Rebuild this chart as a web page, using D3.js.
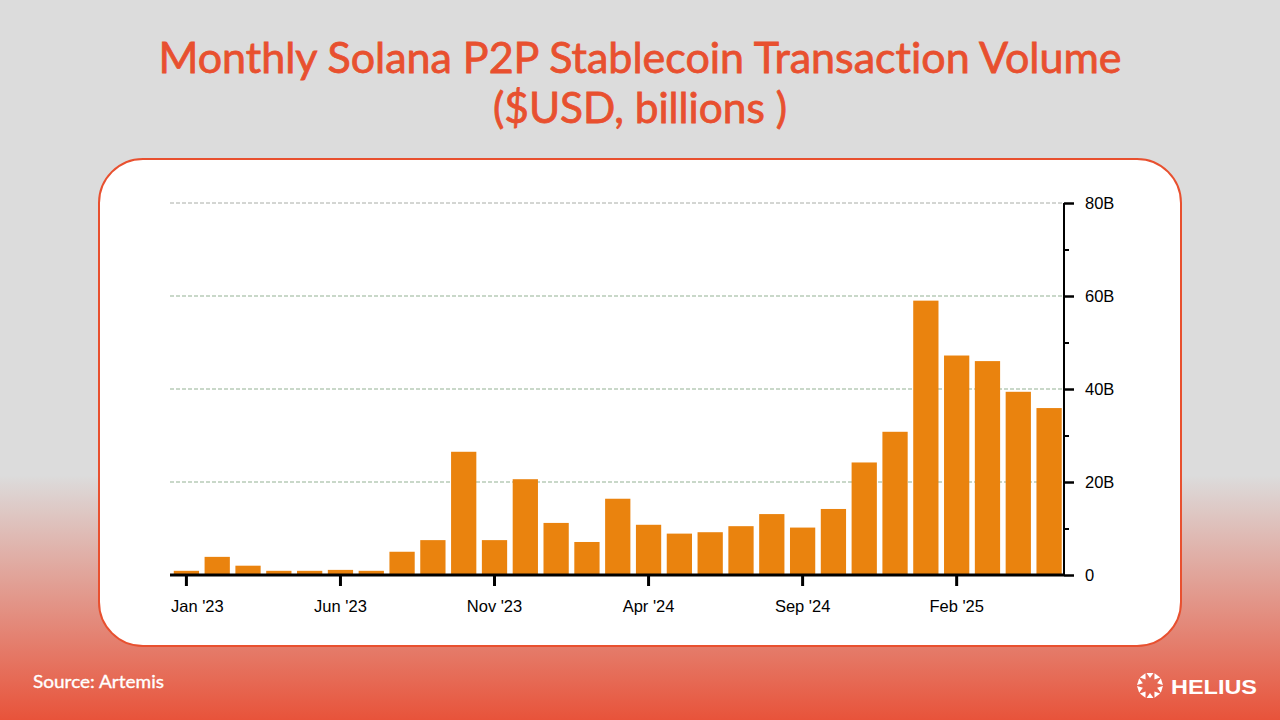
<!DOCTYPE html>
<html>
<head>
<meta charset="utf-8">
<script src="https://cdnjs.cloudflare.com/ajax/libs/d3/7.8.5/d3.min.js"></script>
<style>
html,body{margin:0;padding:0;background:#dcdcdc;}
svg{display:block;}
.title{font-family:Lato,sans-serif;font-weight:400;fill:#e8502f;stroke:#e8502f;stroke-width:0.8px;text-anchor:middle;font-variant-ligatures:none;}
.tick text{font-family:"Liberation Sans",Arial,sans-serif;font-size:16.5px;fill:#000;}
</style>
</head>
<body>
<svg id="chart" width="1280" height="720"></svg>
<script>
var months = ["Jan '23","Feb '23","Mar '23","Apr '23","May '23","Jun '23","Jul '23","Aug '23","Sep '23","Oct '23","Nov '23","Dec '23",
	"Jan '24","Feb '24","Mar '24","Apr '24","May '24","Jun '24","Jul '24","Aug '24","Sep '24","Oct '24","Nov '24","Dec '24",
	"Jan '25","Feb '25","Mar '25","Apr '25","May '25"];
var volumes = [0.9,3.9,2.0,0.9,0.9,1.1,0.9,5.0,7.5,26.5,7.5,20.6,11.2,7.1,16.4,10.8,8.9,9.2,10.5,13.1,10.2,14.2,24.2,30.8,59.0,47.2,46.0,39.4,35.9];
var xTickLabels = ["Jan '23","Jun '23","Nov '23","Apr '24","Sep '24","Feb '25"];
var yMajorTicks = [0,20,40,60,80];
var yMinorTicks = [10,30,50,70];
var titleLines = ["Monthly Solana P2P Stablecoin Transaction Volume","($USD, billions )"];

var svg = d3.select("#chart");

// background fade
var grad = svg.append("defs").append("linearGradient").attr("id","bg")
	.attr("x1",0).attr("y1",0).attr("x2",0).attr("y2",1);
grad.append("stop").attr("offset","66%").attr("stop-color","#dcdcdc");
grad.append("stop").attr("offset","100%").attr("stop-color","#e8533a");
svg.append("rect").attr("width",1280).attr("height",720).attr("fill","url(#bg)");

svg.selectAll("text.title").data(titleLines).enter().append("text")
	.attr("class","title")
	.attr("x",640)
	.attr("y",function(d,i){return 73 + i*50;})
	.attr("font-size",43)
	.attr("textLength",function(d,i){return i==0 ? 963 : 294;})
	.attr("lengthAdjust","spacingAndGlyphs")
	.text(function(d){return d;});

// white card
svg.append("rect").attr("x",99).attr("y",159).attr("width",1082).attr("height",487).attr("rx",44)
	.attr("fill","#fff").attr("stroke","#e8502f").attr("stroke-width",2);

var left = 170, right = 1064, top_ = 203, bottom = 575;
// band so that Jan '23 centres at 186 and May '25 at 1048
var x = d3.scaleBand().domain(months).range([left+1,right+0.5]).paddingInner(0.18).paddingOuter(0.09);
var y = d3.scaleLinear().domain([0,80]).range([bottom,top_]);

// gridlines
svg.selectAll("line.grid").data(yMajorTicks.slice(1)).enter().append("line")
	.attr("class","grid")
	.attr("x1",left).attr("x2",right)
	.attr("y1",function(d){return y(d);}).attr("y2",function(d){return y(d);})
	.attr("stroke",function(d){return d==80 ? "#a8aca6" : "#93b193";})
	.attr("stroke-dasharray","4,2");

svg.selectAll("rect.bar").data(volumes).enter().append("rect")
	.attr("class","bar")
	.attr("x",function(d,i){return x(months[i]);})
	.attr("width",x.bandwidth())
	.attr("y",function(d){return y(d);})
	.attr("height",function(d){return bottom - y(d);})
	.attr("fill","#ea830e");

// x axis
var xAxis = d3.axisBottom(x).tickValues(xTickLabels).tickSize(11).tickPadding(14);
var gx = svg.append("g").attr("transform","translate(0,"+bottom+")").call(xAxis);
gx.select(".domain").attr("stroke","#000").attr("stroke-width",3).attr("d","M"+left+",0H"+right);
gx.selectAll(".tick line").attr("stroke","#000").attr("stroke-width",3);
// first label is pushed in to the plot's left edge
gx.selectAll(".tick text").filter(function(d){return d==xTickLabels[0];})
	.attr("text-anchor","start").attr("x",left+1-x(months[0])-x.bandwidth()/2);

// y axis, minor ticks first
var gyMinor = svg.append("g").attr("transform","translate("+right+",0)")
	.call(d3.axisRight(y).tickValues(yMinorTicks).tickSize(5).tickFormat(""));
gyMinor.select(".domain").remove();
gyMinor.selectAll(".tick line").attr("stroke","#000").attr("stroke-width",2);

var gy = svg.append("g").attr("transform","translate("+right+",0)")
	.call(d3.axisRight(y).tickValues(yMajorTicks).tickSize(10).tickPadding(11)
		.tickFormat(function(d){return d==0 ? "0" : d+"B";}));
gy.select(".domain").attr("stroke","#000").attr("stroke-width",2).attr("d","M0,"+top_+"V"+bottom);
gy.selectAll(".tick line").attr("stroke","#000").attr("stroke-width",2.5);

// footer
svg.append("text").attr("x",33).attr("y",688)
	.attr("font-family","Lato,sans-serif").attr("font-weight",400).attr("font-size",18)
	.attr("stroke","#fff").attr("stroke-width",0.35)
	.attr("textLength",131).attr("lengthAdjust","spacingAndGlyphs")
	.attr("fill","#fff").text("Source: Artemis");

// logo
var logoAngles = d3.range(10).map(function(i){return i*36;});
var logo = svg.append("g").attr("transform","translate(1150,685.5)");
logo.selectAll("path").data(logoAngles).enter().append("path")
	.attr("d","M-3.5,-12.5L3.5,-12.5L0,-7.5Z")
	.attr("transform",function(d){return "rotate("+d+")";})
	.attr("fill","#fff");
svg.append("text").attr("x",1171).attr("y",693.5)
	.attr("font-family","'Liberation Sans',Arial,sans-serif").attr("font-weight",700).attr("font-size",20)
	.attr("fill","#fff").attr("textLength",86).attr("lengthAdjust","spacingAndGlyphs").text("HELIUS");
</script>
</body>
</html>
